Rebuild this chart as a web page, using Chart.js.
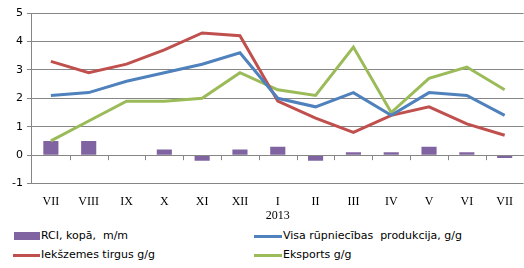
<!DOCTYPE html>
<html>
<head>
<meta charset="utf-8">
<script src="https://cdn.jsdelivr.net/npm/chart.js@4"></script>
<style>
  body { margin: 0; background: #fff; }
  #wrap { position: relative; width: 524px; height: 268px; }
  #chart { position: absolute; left: 0; top: 0; }
  .leg { position: absolute; font: 11px "DejaVu Sans", sans-serif; color: #000; white-space: nowrap; }
  .leg i { display: inline-block; vertical-align: middle; margin-right: 1px; }
</style>
</head>
<body>
<div id="wrap">
  <canvas id="chart" width="524" height="225"></canvas>
  <div class="leg" style="left:14px; top:229px"><i style="width:26px;height:8px;background:#8064A2"></i>RCI, kopā,&nbsp; m/m</div>
  <div class="leg" style="left:254px; top:229px"><i style="width:28px;height:3px;background:#4F81BD"></i>Visa rūpniecības&nbsp; produkcija, g/g</div>
  <div class="leg" style="left:13px; top:248px"><i style="width:27px;height:3px;background:#C0504D"></i>Iekšzemes tirgus g/g</div>
  <div class="leg" style="left:254px; top:248px"><i style="width:28px;height:3px;background:#9BBB59"></i>Eksports g/g</div>
</div>
<script>
const months = ['VII', 'VIII', 'IX', 'X', 'XI', 'XII', 'I', 'II', 'III', 'IV', 'V', 'VI', 'VII'];
const yearLabel = '2013';
const yearStartIndex = 6; // "I" = January 2013
const rci = [0.5, 0.5, 0, 0.2, -0.2, 0.2, 0.3, -0.2, 0.1, 0.1, 0.3, 0.1, -0.1];
const industry = [2.1, 2.2, 2.6, 2.9, 3.2, 3.6, 2.0, 1.7, 2.2, 1.4, 2.2, 2.1, 1.4];
const domestic = [3.3, 2.9, 3.2, 3.7, 4.3, 4.2, 1.9, 1.3, 0.8, 1.4, 1.7, 1.1, 0.7];
const exportsG = [0.5, 1.2, 1.9, 1.9, 2.0, 2.9, 2.3, 2.1, 3.8, 1.5, 2.7, 3.1, 2.3];

// zero line with small category ticks, plus the year under "I"
const axisExtras = {
  id: 'axisExtras',
  afterDatasetsDraw(chart) {
    const { ctx, scales: { x, y } } = chart;
    const y0 = y.getPixelForValue(0);
    ctx.save();
    ctx.strokeStyle = '#868686';
    ctx.lineWidth = 1;
    ctx.beginPath();
    ctx.moveTo(x.left, Math.round(y0) + 0.5);
    ctx.lineTo(x.right, Math.round(y0) + 0.5);
    for (let i = 1; i <= months.length; i++) {
      const px = Math.round(x.getPixelForValue(i - 0.5)) + 0.5;
      ctx.moveTo(px, y0);
      ctx.lineTo(px, y0 + 5);
    }
    ctx.stroke();
    ctx.fillStyle = '#000';
    ctx.font = '12px "Liberation Serif"';
    ctx.textAlign = 'center';
    ctx.textBaseline = 'middle';
    ctx.fillText(yearLabel, x.getPixelForValue(yearStartIndex), y.bottom + 32);
    ctx.restore();
  }
};

const line = (data, color) => ({
  type: 'line', data, borderColor: color, backgroundColor: color,
  borderWidth: 3, pointRadius: 0, tension: 0, order: 1
});

new Chart(document.getElementById('chart').getContext('2d'), {
  data: {
    labels: months,
    datasets: [
      { type: 'bar', label: 'RCI, kopā, m/m', data: rci, backgroundColor: '#8064A2',
        barPercentage: 0.4, categoryPercentage: 1, order: 2 },
      line(industry, '#4F81BD'),
      line(domestic, '#C0504D'),
      line(exportsG, '#9BBB59')
    ]
  },
  options: {
    responsive: false,
    animation: false,
    layout: { padding: { top: 13, right: 0, left: 8, bottom: 5 } },
    plugins: { legend: { display: false }, tooltip: { enabled: false } },
    scales: {
      x: {
        grid: { display: false, drawTicks: false },
        border: { display: false },
        ticks: { color: '#000', padding: 11, maxRotation: 0, autoSkip: false,
          font: { family: 'Liberation Serif', size: 12 } }
      },
      y: {
        min: -1, max: 5,
        ticks: { stepSize: 1, color: '#000', padding: 4,
          font: { family: 'DejaVu Sans', size: 11 } },
        grid: { color: '#868686', tickLength: 5, tickColor: '#868686' },
        border: { color: '#868686' }
      }
    }
  },
  plugins: [axisExtras]
});
</script>
</body>
</html>
